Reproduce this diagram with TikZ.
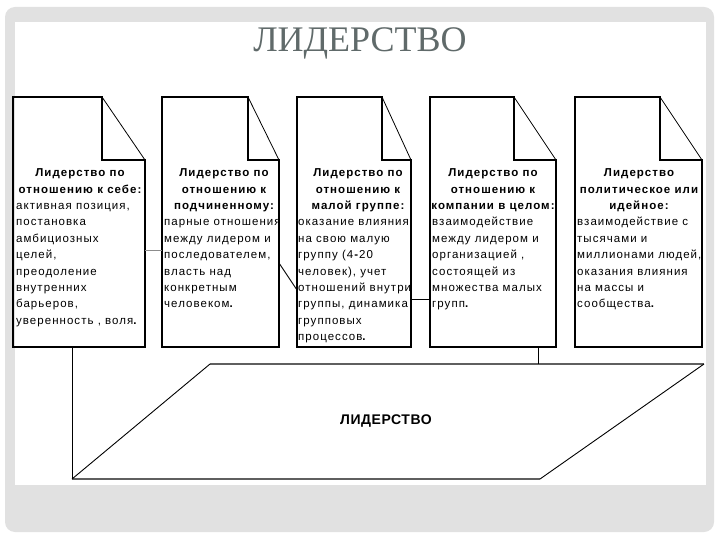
\documentclass[tikz,border=0pt]{standalone}
\usepackage{fontspec}
\setmainfont{Liberation Sans}
\newfontfamily\boxfont[LetterSpace=9]{Liberation Sans}
\newfontfamily\slidetitlefont{Liberation Serif}
\newfontfamily\labfont[LetterSpace=4]{Liberation Sans}
\definecolor{framegray}{RGB}{225,225,225}
\definecolor{titlegray}{RGB}{96,106,106}
\definecolor{edgegray}{RGB}{95,95,95}
\definecolor{linkgray}{RGB}{140,140,140}
\newcommand\docshape[3]{%
  \draw[docline] ([yshift=-#3]#1.north east) -- (#1.south east) -- (#1.south west) -- (#1.north west) -- ([xshift=-#2]#1.north east) -- ([xshift=-#2,yshift=-#3]#1.north east) -- cycle;
  \draw[foldline] ([xshift=-#2]#1.north east) -- ([yshift=-#3]#1.north east);
}
\newcommand\fl{\rule{0pt}{9pt}}
\begin{document}
\begin{tikzpicture}[x=1pt,y=-1pt,
  docarea/.style={inner sep=0pt, outer sep=0pt, anchor=north west, minimum height=250pt},
  docline/.style={line width=1.5pt, line join=miter},
  foldline/.style={line width=0.8pt},
  ttl/.style={inner sep=0pt, anchor=north, align=center, font=\boxfont\bfseries\fontsize{11.5}{16.4}\selectfont},
  body/.style={inner sep=0pt, anchor=north west, align=left, font=\boxfont\fontsize{11.5}{16.4}\selectfont},
  link/.style={line width=0.9pt},
  paredge/.style={line width=2pt, draw=edgegray},
  pardiag/.style={line width=0.9pt},
]
\useasboundingbox (0,0) rectangle (720,540);
\fill[white] (0,0) rectangle (720,540);
\fill[framegray, rounded corners=10pt] (5,7) rectangle (714,532);
\fill[white] (15,22) rectangle (706,485);
\node[text=titlegray, font=\slidetitlefont\fontsize{36}{36}\selectfont, anchor=base, inner sep=0pt] (title) at (360,52) {ЛИДЕРСТВО};

% document boxes
\node[docarea, minimum width=132pt] (b1) at (13,97) {};
\node[docarea, minimum width=117pt] (b2) at (162,97) {};
\node[docarea, minimum width=114pt] (b3) at (297,97) {};
\node[docarea, minimum width=126pt] (b4) at (430,97) {};
\node[docarea, minimum width=127pt] (b5) at (575,97) {};
\docshape{b1}{43pt}{63pt}
\docshape{b2}{31pt}{63pt}
\docshape{b3}{29pt}{63pt}
\docshape{b4}{42pt}{63pt}
\docshape{b5}{42pt}{63pt}

\node[ttl] (h1) at (80,167.5) {\fl Лидерство по\\отношению к себе:};
\node[body] (d1) at (16,200.3) {\fl активная позиция,\\постановка\\амбициозных\\целей,\\преодоление\\внутренних\\барьеров,\\уверенность , воля\textbf{.}};
\node[ttl] (h2) at (224,167.5) {\fl Лидерство по\\отношению к\\подчиненному:};
\node[body] (d2) at (164,216.7) {\fl парные отношения\\между лидером и\\последователем,\\власть над\\конкретным\\человеком\textbf{.}};
\node[ttl] (h3) at (358,167.5) {\fl Лидерство по\\отношению к\\малой группе:};
\node[body] (d3) at (298,216.7) {\fl оказание влияния\\на свою малую\\группу (4\textbf{-}20\\человек), учет\\отношений внутри\\группы, динамика\\групповых\\процессов\textbf{.}};
\node[ttl] (h4) at (493,167.5) {\fl Лидерство по\\отношению к\\компании в целом:};
\node[body] (d4) at (432,216.7) {\fl взаимодействие\\между лидером и\\организацией ,\\состоящей из\\множества малых\\групп\textbf{.}};
\node[ttl] (h5) at (639,167.5) {\fl Лидерство\\политическое или\\идейное:};
\node[body] (d5) at (577,216.7) {\fl взаимодействие с\\тысячами и\\миллионами людей,\\оказания влияния\\на массы и\\сообщества\textbf{.}};

% parallelogram
\coordinate (pBL) at (72,479);
\coordinate (pBR) at (540,479);
\coordinate (pTR) at (704,364);
\coordinate (pTL) at (210,364);
\coordinate (pJ) at (538,364);
\draw[paredge] (pBL) -- (pBR);
\draw[paredge] (pTL) -- (pTR);
\draw[pardiag] (pBL) -- (pTL);
\draw[pardiag] (pBR) -- (pTR);
\node[font=\labfont\bfseries\fontsize{14}{14}\selectfont, inner sep=0pt] (lab) at (386,421) {ЛИДЕРСТВО};

% connectors
\draw[link, draw=linkgray] (b1.east |- 0,250) -- (b2.west |- 0,250);
\draw[link] (b2.east |- 0,263) -- (b3.west |- 0,290);
\draw[link] (b3.east |- 0,299) -- (b4.west |- 0,299);
\draw[link] (b4.south -| pJ) -- (pJ);
\draw[link] (b1.south -| pBL) -- (pBL);
\end{tikzpicture}
\end{document}
